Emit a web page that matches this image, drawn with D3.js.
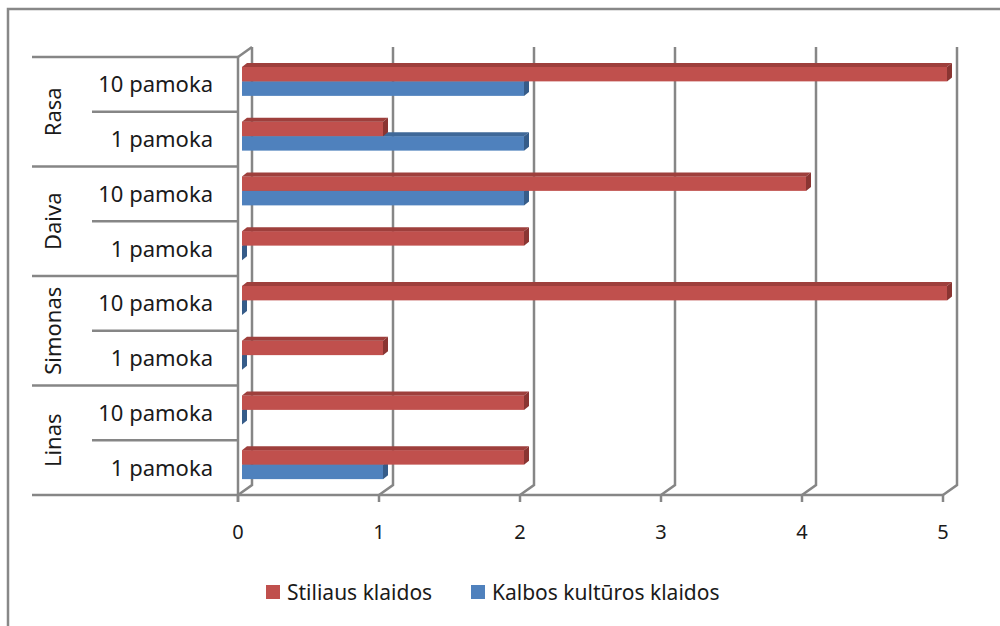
<!DOCTYPE html>
<html>
<head>
<meta charset="utf-8">
<script src="https://cdn.jsdelivr.net/npm/d3@7"></script>
<style>
  body { margin: 0; background: #fff; }
  svg { display: block; font-family: 'Noto Sans', sans-serif; }
</style>
</head>
<body>
<svg></svg>
<script>
// chart data (bottom to top in the picture)
var people = ['Linas', 'Simonas', 'Daiva', 'Rasa'];
var lessons = ['1 pamoka', '10 pamoka'];
var seriesNames = ['Stiliaus klaidos', 'Kalbos kultūros klaidos'];
var stiliaus = [2, 2, 1, 5, 2, 4, 1, 5]; // Linas 1, Linas 10, Simonas 1, ...
var kalbos = [1, 0, 0, 0, 0, 2, 2, 2];
var xTicks = [0, 1, 2, 3, 4, 5];

var width = 1000,
	height = 626;

var colors = {
	red: { front: '#C0504D', top: '#9E3F3C', side: '#8A3532' },
	blue: { front: '#4F81BD', top: '#3F6898', side: '#365C89' }
};

// build rows, one per person+lesson
var rows = [];
people.forEach(function(p, pi) {
	lessons.forEach(function(l, li) {
		var i = pi * 2 + li;
		rows.push({ key: p + '|' + l, person: p, lesson: l, red: stiliaus[i], blue: kalbos[i] });
	});
});

var svg = d3.select('svg')
	.attr('width', width)
	.attr('height', height);

// outer frame (only top and left edges are in view)
svg.append('path')
	.attr('d', 'M8,626 V9 H1000')
	.attr('fill', 'none')
	.attr('stroke', '#888')
	.attr('stroke-width', 2.5);

var xScale = d3.scaleLinear()
	.domain([0, 5])
	.range([238, 943]);

var yScale = d3.scaleBand()
	.domain(rows.map(d => d.key).reverse()) // Rasa 10 pamoka on top
	.range([57, 495]);

var wall = { dx: 14, dy: -10 }; // back wall offset
var barOff = { dx: 4, dy: -3 }; // bar front offset
var barDepth = { dx: 5, dy: -4 };
var barH = 14.5;
var grey = '#868686';
var lineW = 2.5;
var textCol = '#1a1a1a';

var plotTop = yScale.range()[0],
	plotBottom = yScale.range()[1];

// back wall gridlines with the floor diagonal
var grid = svg.append('g');
xTicks.forEach(function(t) {
	var x = xScale(t);
	grid.append('path')
		.attr('d', 'M' + (x + wall.dx) + ',' + (plotTop + wall.dy) + ' V' + (plotBottom + wall.dy) + ' L' + x + ',' + plotBottom)
		.attr('fill', 'none')
		.attr('stroke', grey)
		.attr('stroke-width', lineW);
});

// left wall
grid.append('path')
	.attr('d', 'M' + xScale(0) + ',' + plotTop + ' L' + (xScale(0) + wall.dx) + ',' + (plotTop + wall.dy))
	.attr('fill', 'none')
	.attr('stroke', grey)
	.attr('stroke-width', lineW);

// floor / value axis line
grid.append('line')
	.attr('x1', 32).attr('x2', xScale(5) + 1)
	.attr('y1', plotBottom).attr('y2', plotBottom)
	.attr('stroke', grey)
	.attr('stroke-width', lineW);

// category axis line
grid.append('line')
	.attr('x1', xScale(0)).attr('x2', xScale(0))
	.attr('y1', plotTop).attr('y2', plotBottom + 7)
	.attr('stroke', grey)
	.attr('stroke-width', lineW);

// tick marks and labels
xTicks.forEach(function(t) {
	grid.append('line')
		.attr('x1', xScale(t)).attr('x2', xScale(t))
		.attr('y1', plotBottom).attr('y2', plotBottom + 7)
		.attr('stroke', grey)
		.attr('stroke-width', lineW);
	svg.append('text')
		.attr('x', xScale(t))
		.attr('y', 539)
		.attr('text-anchor', 'middle')
		.attr('font-size', 20)
		.attr('fill', textCol)
		.text(t);
});

// category table lines
people.forEach(function(p) {
	var yTop = yScale(p + '|10 pamoka');
	var yMid = yScale(p + '|1 pamoka');
	grid.append('line')
		.attr('x1', 32).attr('x2', xScale(0))
		.attr('y1', yTop).attr('y2', yTop)
		.attr('stroke', grey).attr('stroke-width', lineW);
	grid.append('line')
		.attr('x1', 92).attr('x2', xScale(0))
		.attr('y1', yMid).attr('y2', yMid)
		.attr('stroke', grey).attr('stroke-width', lineW);
	svg.append('text')
		.attr('transform', 'translate(61,' + (yTop + yScale.bandwidth()) + ') rotate(-90)')
		.attr('text-anchor', 'middle')
		.attr('font-size', 22)
		.attr('fill', textCol)
		.text(p);
});

rows.forEach(function(d) {
	svg.append('text')
		.attr('x', 213)
		.attr('y', yScale(d.key) + yScale.bandwidth() / 2 + 8)
		.attr('text-anchor', 'end')
		.attr('font-size', 22)
		.attr('fill', textCol)
		.text(d.lesson);
});

// 3d bars
function drawBar(g, value, y0, c) {
	var x0 = xScale(0) + barOff.dx,
		x1 = xScale(value) + barOff.dx,
		y1 = y0 + barH,
		dx = barDepth.dx,
		dy = barDepth.dy;
	if (value > 0) {
		g.append('rect')
			.attr('x', x0).attr('y', y0)
			.attr('width', x1 - x0).attr('height', barH)
			.attr('fill', c.front);
		g.append('path')
			.attr('d', 'M' + x0 + ',' + y0 + ' L' + (x0 + dx) + ',' + (y0 + dy) + ' H' + (x1 + dx) + ' L' + x1 + ',' + y0 + 'Z')
			.attr('fill', c.top);
	}
	g.append('path')
		.attr('d', 'M' + x1 + ',' + y0 + ' L' + (x1 + dx) + ',' + (y0 + dy) + ' V' + (y1 + dy) + ' L' + x1 + ',' + y1 + 'Z')
		.attr('fill', c.side);
}

var bars = svg.append('g');
rows.forEach(function(d) {
	var mid = yScale(d.key) + yScale.bandwidth() / 2 + barOff.dy;
	drawBar(bars, d.blue, mid, colors.blue);
	drawBar(bars, d.red, mid - barH, colors.red);
});

// legend
var legend = svg.append('g');
[[seriesNames[0], colors.red.front, 266], [seriesNames[1], colors.blue.front, 471]].forEach(function(l) {
	legend.append('rect')
		.attr('x', l[2]).attr('y', 585)
		.attr('width', 14).attr('height', 14)
		.attr('fill', l[1]);
	legend.append('text')
		.attr('x', l[2] + 21)
		.attr('y', 600)
		.attr('font-size', 21)
		.attr('fill', textCol)
		.text(l[0]);
});
</script>
</body>
</html>
